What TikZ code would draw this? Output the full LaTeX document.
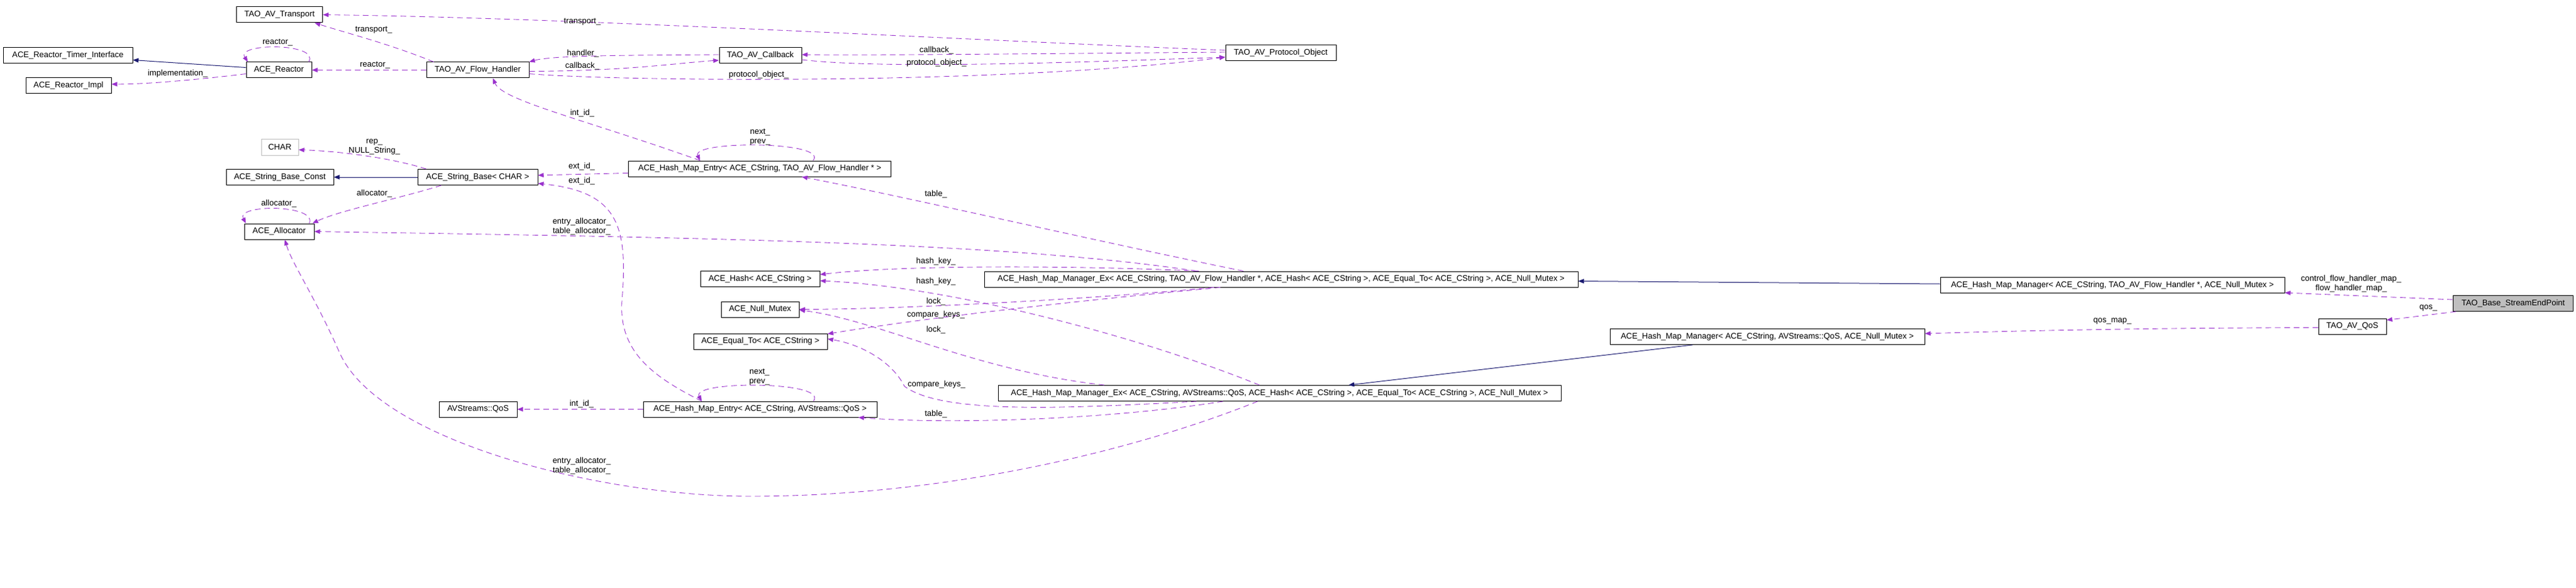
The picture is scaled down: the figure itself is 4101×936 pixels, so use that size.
\documentclass[tikz,border=0pt]{standalone}
\usepackage{fontspec}
\setmainfont{Liberation Sans}
\usepackage{xcolor}
\usepackage{tikz}
\usetikzlibrary{positioning, arrows.meta}
\definecolor{usage}{HTML}{9A32CD}
\definecolor{inherit}{HTML}{191970}
\definecolor{lgray}{HTML}{BFBFBF}

\begin{document}
\begin{tikzpicture}[x=1pt,y=-1pt,font=\fontsize{13}{15}\selectfont,>={Triangle[length=9pt,width=7pt]}]
						\tikzstyle{cls}=[rectangle,draw=black,fill=white,line width=1pt,minimum height=25pt,inner sep=0pt]
						\tikzstyle{use}=[draw=usage,line width=0.9pt,dash pattern=on 9pt off 6pt]
						\tikzstyle{inh}=[draw=inherit,line width=1pt]
						\tikzstyle{lbl}=[inner sep=0pt,align=center]
						\useasboundingbox (0,0) rectangle (4101,936);
						% classes
						\node[cls,minimum width=137pt](transport) at (445,23.5) {TAO\_AV\_Transport};
						\node[cls,minimum width=206pt](rti) at (108,88.5) {ACE\_Reactor\_Timer\_Interface};
						\node[cls,minimum width=136pt](rimpl) at (109,136) {ACE\_Reactor\_Impl};
						\node[cls,minimum width=104pt](reactor) at (444,111.5) {ACE\_Reactor};
						\node[cls,minimum width=163pt](flowh) at (760.5,111.5) {TAO\_AV\_Flow\_Handler};
						\node[cls,minimum width=131pt](callback) at (1210.5,88) {TAO\_AV\_Callback};
						\node[cls,minimum width=176pt](protobj) at (2039,84) {TAO\_AV\_Protocol\_Object};
						\node[cls,draw=lgray,minimum width=59pt](char) at (445.5,234.5) {CHAR};
						\node[cls,minimum width=171pt](sbconst) at (445.5,282) {ACE\_String\_Base\_Const};
						\node[cls,minimum width=191pt](sbase) at (760.5,282) {ACE\_String\_Base< CHAR >};
						\node[cls,minimum width=111pt](alloc) at (444.5,368.5) {ACE\_Allocator};
						\node[cls,minimum width=418pt](entryf) at (1209.5,268.5) {ACE\_Hash\_Map\_Entry< ACE\_CString, TAO\_AV\_Flow\_Handler * >};
						\node[cls,minimum width=190pt](hash) at (1210,444) {ACE\_Hash< ACE\_CString >};
						\node[cls,minimum width=124pt](nullmx) at (1210,492.5) {ACE\_Null\_Mutex};
						\node[cls,minimum width=213pt](equal) at (1210.5,543.5) {ACE\_Equal\_To< ACE\_CString >};
						\node[cls,minimum width=945pt](mgrexf) at (2039.5,444.5) {ACE\_Hash\_Map\_Manager\_Ex< ACE\_CString, TAO\_AV\_Flow\_Handler *, ACE\_Hash< ACE\_CString >, ACE\_Equal\_To< ACE\_CString >, ACE\_Null\_Mutex >};
						\node[cls,minimum width=896pt](mgrexq) at (2037,626) {ACE\_Hash\_Map\_Manager\_Ex< ACE\_CString, AVStreams::QoS, ACE\_Hash< ACE\_CString >, ACE\_Equal\_To< ACE\_CString >, ACE\_Null\_Mutex >};
						\node[cls,minimum width=124pt](qos) at (761,651.5) {AVStreams::QoS};
						\node[cls,minimum width=372pt](entryq) at (1210,651.5) {ACE\_Hash\_Map\_Entry< ACE\_CString, AVStreams::QoS >};
						\node[cls,minimum width=548pt](mgrf) at (3363,454) {ACE\_Hash\_Map\_Manager< ACE\_CString, TAO\_AV\_Flow\_Handler *, ACE\_Null\_Mutex >};
						\node[cls,minimum width=501pt](mgrq) at (2813.5,536) {ACE\_Hash\_Map\_Manager< ACE\_CString, AVStreams::QoS, ACE\_Null\_Mutex >};
						\node[cls,minimum width=108pt](avqos) at (3745,519.5) {TAO\_AV\_QoS};
						\node[cls,fill=lgray,minimum width=191pt](endpoint) at (4001,483) {TAO\_Base\_StreamEndPoint};
						% inheritance
						\draw[inh,->] ([yshift=4pt]reactor.west) -- ([yshift=-7pt]rti.east);
						\draw[inh,->] (sbase.west) -- (sbconst.east);
						\draw[inh,->] ([yshift=2pt]mgrf.west) -- ([yshift=-3pt]mgrexf.east);
						\draw[inh,->] ([xshift=-119pt]mgrq.south) -- ([xshift=110pt]mgrexq.north);
						% members
						\draw[use,->] ([yshift=-6pt]reactor.west) .. controls (330,125) and (240,134) .. ([yshift=2pt]rimpl.east);
						\draw[use,->] ([xshift=-5pt]reactor.north east) .. controls (510,68) and (375,68) .. ([xshift=3pt]reactor.north west);
						\draw[use,->] (flowh.west) -- (reactor.east);
						\draw[use,->] ([xshift=12pt]flowh.north west) .. controls (620,70) and (560,55) .. ([xshift=-13pt]transport.south east);
						\draw[use,->] ([yshift=4pt]protobj.west) .. controls (1500,62) and (900,28) .. (transport.east);
						\draw[use,->] ([yshift=1pt]callback.west) .. controls (1000,88) and (880,88) .. (flowh.north east);
						\draw[use,->] ([yshift=-2pt]flowh.east) .. controls (1000,113) and (1080,100) .. ([yshift=-8pt]callback.west);
						\draw[use,->] ([yshift=1pt]protobj.west) .. controls (1600,86) and (1400,88) .. ([yshift=1pt]callback.east);
						\draw[use,->] ([yshift=-7pt]callback.east) .. controls (1400,110) and (1700,100) .. ([yshift=-7pt]protobj.west);
						\draw[use,->] ([yshift=-6pt]flowh.east) .. controls (1000,130) and (1600,135) .. ([yshift=-7pt]protobj.west);
						\draw[use,->] ([xshift=-95pt]entryf.north) .. controls (930,190) and (800,160) .. ([xshift=24pt]flowh.south);
						\draw[use,->] ([xshift=85pt]entryf.north) .. controls (1320,224) and (1100,224) .. ([xshift=-95pt]entryf.north);
						\draw[use,->] ([yshift=-7pt]entryf.west) -- ([yshift=3pt]sbase.east);
						\draw[use,->] ([xshift=-93pt]entryq.north) .. controls (1040,600) and (985,560) .. (990,480) .. controls (1000,360) and (985,305) .. ([yshift=-10pt]sbase.east);
						\draw[use,->] (entryq.west) -- (qos.east);
						\draw[use,->] ([xshift=85pt]entryq.north) .. controls (1320,606) and (1100,606) .. ([xshift=-93pt]entryq.north);
						\draw[use,->] ([xshift=14pt]sbase.north west) .. controls (620,250) and (530,240) .. ([yshift=-4pt]char.east);
						\draw[use,->] ([xshift=38pt]sbase.south west) .. controls (640,315) and (540,335) .. ([xshift=-3pt]alloc.north east);
						\draw[use,->] ([xshift=-8pt]alloc.north east) .. controls (505,325) and (375,325) .. ([xshift=3pt]alloc.north west);
						\draw[use,->] ([xshift=-135pt]mgrexf.north) .. controls (1600,385) and (1100,378) .. (alloc.east);
						\draw[use,->] ([xshift=-60pt]mgrexf.north) .. controls (1750,385) and (1450,315) .. ([xshift=67pt]entryf.south);
						\draw[use,->] ([xshift=-131pt]mgrexf.north) .. controls (1750,424) and (1450,420) .. ([yshift=7pt]hash.east);
						\draw[use,->] ([xshift=-107pt]mgrexf.south) .. controls (1750,475) and (1450,492) .. (nullmx.east);
						\draw[use,->] ([xshift=-97pt]mgrexf.south) .. controls (1650,485) and (1450,510) .. ([yshift=-1pt]equal.north east);
						\draw[use,->] ([xshift=-32pt]mgrexq.north) .. controls (1800,530) and (1500,455) .. ([yshift=-3pt]hash.east);
						\draw[use,->] ([xshift=-279pt]mgrexq.north) .. controls (1550,590) and (1400,510) .. ([yshift=-1pt]nullmx.east);
						\draw[use,->] ([xshift=-132pt]mgrexq.south) .. controls (1700,650) and (1500,660) .. (1440,615) .. controls (1420,575) and (1370,548) .. ([yshift=4pt]equal.east);
						\draw[use,->] ([xshift=-90pt]mgrexq.south) .. controls (1750,670) and (1500,675) .. ([xshift=-30pt]entryq.south east);
						\draw[use,->] ([xshift=-35pt]mgrexq.south) .. controls (1800,720) and (1500,790) .. (1195,790) .. controls (950,790) and (600,700) .. (540,560) .. controls (500,470) and (465,420) .. ([xshift=9pt]alloc.south);
						\draw[use,->] ([yshift=6pt]endpoint.west) -- ([yshift=-12pt]mgrf.east);
						\draw[use,->] ([xshift=5pt]endpoint.south west) -- ([yshift=10pt]avqos.east);
						\draw[use,->] ([yshift=-2pt]avqos.west) .. controls (3500,522) and (3300,524) .. ([yshift=5pt]mgrq.east);
						% labels
						\node[lbl](t1) at (927,35) {transport\_};
						\node[lbl](t2) at (595,48) {transport\_};
						\node[lbl](r1) at (442,68) {reactor\_};
						\node[lbl](r2) at (597,104) {reactor\_};
						\node[lbl](im) at (283,117) {implementation\_};
						\node[lbl](hd) at (928,85) {handler\_};
						\node[lbl](cb1) at (927,105) {callback\_};
						\node[lbl](po1) at (1208,119) {protocol\_object\_};
						\node[lbl](cb2) at (1491,80) {callback\_};
						\node[lbl](po2) at (1491,100) {protocol\_object\_};
						\node[lbl](ii1) at (927,180) {int\_id\_};
						\node[lbl](np1) at (1210,218.5) {next\_\\prev\_};
						\node[lbl](rp) at (596,234) {rep\_\\NULL\_String\_};
						\node[lbl](ei1) at (926,265) {ext\_id\_};
						\node[lbl](ei2) at (926,288) {ext\_id\_};
						\node[lbl](al1) at (596,308) {allocator\_};
						\node[lbl](al2) at (444,324) {allocator\_};
						\node[lbl](ea1) at (926,360.5) {entry\_allocator\_\\table\_allocator\_};
						\node[lbl](tb1) at (1490,309) {table\_};
						\node[lbl](hk1) at (1490,416) {hash\_key\_};
						\node[lbl](hk2) at (1490,448) {hash\_key\_};
						\node[lbl](lk1) at (1490,480) {lock\_};
						\node[lbl](ck1) at (1490,501) {compare\_keys\_};
						\node[lbl](lk2) at (1490,525) {lock\_};
						\node[lbl](np2) at (1209,600.5) {next\_\\prev\_};
						\node[lbl](ck2) at (1491,612) {compare\_keys\_};
						\node[lbl](ii2) at (926,643) {int\_id\_};
						\node[lbl](tb2) at (1490,659) {table\_};
						\node[lbl](ea2) at (926,741.5) {entry\_allocator\_\\table\_allocator\_};
						\node[lbl](fm) at (3743,451.5) {control\_flow\_handler\_map\_\\flow\_handler\_map\_};
						\node[lbl](qs) at (3866,490) {qos\_};
						\node[lbl](qm) at (3363,511) {qos\_map\_};
					\end{tikzpicture}
\end{document}
